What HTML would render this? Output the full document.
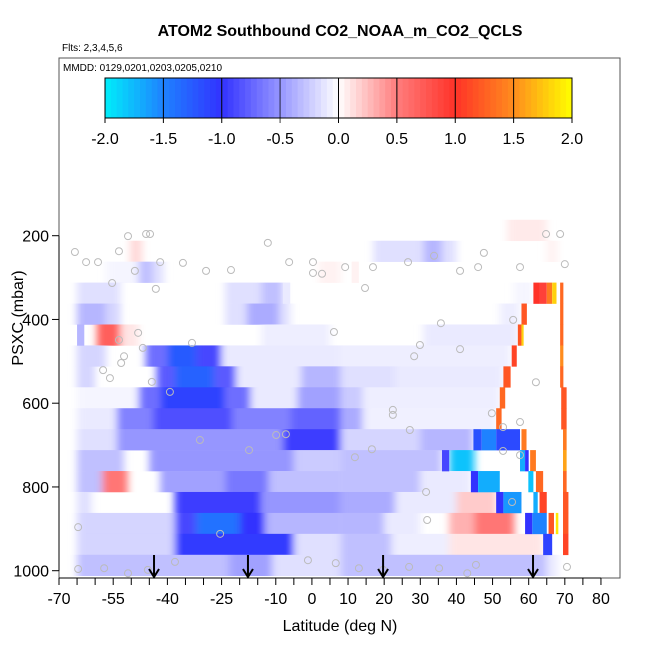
<!DOCTYPE html>
<html><head><meta charset="utf-8"><style>
body{margin:0;background:#fff;font-family:"Liberation Sans",sans-serif}
svg text{font-family:"Liberation Sans",sans-serif}
</style></head><body>
<svg id="c" width="650" height="650" viewBox="0 0 650 650">
<defs><filter id="hb" x="-0.1" y="0" width="1.2" height="1"><feGaussianBlur stdDeviation="4 0"/></filter></defs>
<text x="340" y="36" text-anchor="middle" font-size="16" font-weight="bold">ATOM2 Southbound CO2_NOAA_m_CO2_QCLS</text>
<text x="62" y="51" font-size="10">Flts: 2,3,4,5,6</text>
<g id="heat" filter="url(#hb)"></g>
<g id="heatSharp"></g>
<g id="marks"></g>
<rect x="59" y="58" width="561" height="520" fill="none" stroke="#555"/>
<text x="63" y="71" font-size="10">MMDD: 0129,0201,0203,0205,0210</text>
<g id="cbar"></g>
<g id="xax"></g>
<g id="yax"></g>
<g id="arrows"></g>
<text x="340" y="631" text-anchor="middle" font-size="16">Latitude (deg N)</text>
<text transform="translate(23,318) rotate(-90)" text-anchor="middle" font-size="16">PSXC (mbar)</text>
</svg>
<script>
const xTicks=[-70,-65,-60,-55,-50,-45,-40,-35,-30,-25,-20,-15,-10,-5,0,5,10,15,20,25,30,35,40,45,50,55,60,65,70,75,80];
const xLabels=[-70,-55,-40,-25,-10,0,10,20,30,40,50,60,70,80];
const yTicks=[200,400,600,800,1000];
const cbTicks=["-2.0","-1.5","-1.0","-0.5","0.0","0.5","1.0","1.5","2.0"];
const rowTop=[112,162,212,262,312,362,412,462,512,562,612,662,712,762,812,862,912,962];
const rowSegs=[
[],
[[54,65,0.08]],
[[-50.3,-47,0.15],[17,31,-0.15],[31,36,-0.35],[36,40,-0.15],[65,68,0.05]],
[[-57,-48,-0.05],[-48,-44,-0.3],[-44,-41,-0.15],[2,8,0.05],[11,13,0.05]],
[[-65,-53,-0.15],[-24,-14,-0.15],[-14,-8,-0.3],[-8,-6,-0.1],[56,61,-0.05],[61.3,63,1.0],[63,65,0.9],[65,66.5,1.4],[66.5,67.7,1.8],[68.7,69.6,1.3]],
[[-65,-57,-0.35],[-57,-53,-0.2],[-24,-18,-0.15],[-18,-9,-0.4],[-9,-6,-0.15],[52,57.5,-0.08],[58,59.5,1.2],[68.7,69.6,1.3]],
[[-65,-63,-0.35],[-59.5,-53,0.7],[-53,-48,0.1],[-14,5,-0.08],[30.8,57,-0.1],[57,58,1.2],[58,58.6,1.8],[68.7,69.6,1.3]],
[[-65,-57,-0.2],[-46,-40,-0.7],[-40,-32,-1.25],[-32,-25,-0.9],[-25,8,-0.1],[8,55,-0.08],[55.3,56.7,1.1],[68.7,69.6,1.5]],
[[-65,-60,-0.2],[-43,-38,-0.8],[-38,-27,-1.3],[-27,-21,-0.8],[-21,-3,-0.1],[-3,8,-0.35],[8,23,-0.15],[23,53,-0.1],[53,55,1.2],[68.7,69.6,1.3]],
[[-65,-48,-0.05],[-48,-42,-0.7],[-42,-24,-1.1],[-24,-17,-0.7],[-17,-4,-0.1],[-4,8,-0.45],[8,14,-0.25],[14,52,-0.08],[52,53.5,1.3],[69,70.5,1.2]],
[[-65,-54,-0.1],[-54,-44,-0.6],[-44,-22,-0.85],[-22,-6,-0.6],[-6,8,-0.75],[8,14,-0.4],[14,51,-0.07],[51,52.5,1.3],[69,70.5,1.2]],
[[-65,-54,-0.15],[-54,-8,-0.5],[-8,8,-0.95],[8,30,-0.2],[30,44.7,-0.35],[44.7,47,-1.2],[47,51,-1.5],[51,57.6,-1.15],[58,59.4,1.4],[69.5,70.5,1.4]],
[[-65,-52,-0.3],[-45,-5,-0.5],[-5,8,-0.25],[8,36,-0.3],[36,38,-0.9],[38,45,-1.8],[57.6,59,-1.7],[59,60,-1],[60.4,62,1.4],[69.5,70.5,1.6]],
[[-65,-58,-0.3],[-58,-51,0.55],[-42,-24,-0.45],[-24,-12,-0.65],[-12,8,-0.3],[8,30,-0.3],[30,44,-0.1],[44,46,-1.0],[46,52,-1.7],[59.9,61.3,-1.8],[62,64,1.3],[69.5,70.5,1.3]],
[[-65,-61,-0.15],[-38,-14,-0.95],[-14,8,-0.5],[8,23,-0.4],[23,40,-0.1],[40,51,0.2],[51,53,-1.0],[53,58,-1.6],[61.3,62.5,-1.7],[63,65,1.1],[69.5,71,1.2]],
[[-65,-38,-0.2],[-38,-32,-0.9],[-32,-20,-1.4],[-20,-13,-1.0],[-13,8,-0.35],[8,20,-0.35],[20,30,-0.1],[38,45,0.3],[45,56,0.55],[59,61,-1.0],[61,65,-1.5],[65.5,67,1.2],[67.5,68.2,1.9],[69.5,71,1.2]],
[[-65,-38,-0.2],[-38,-5,-1.05],[-5,8,-0.15],[8,22,-0.3],[22,38,-0.08],[38,64,0.1],[64,66.5,-1.1],[69.5,71,1.1]],
[[-65,-23,-0.3],[-23,-11,-0.45],[-11,8,-0.15],[8,35,-0.3],[35,65,-0.3],[65,68,-0.1]]
];
const markLat=[-65.6,-62.5,-59.2,-53.4,-50.9,-45.9,-44.8,-42,-49,-55.3,-43.2,-35.7,-29.3,-22.4,-12.2,-6.3,0.3,0.3,2.8,9.2,16.9,26.6,33.8,41,46,47.6,57.6,64.8,68.7,70,-53.4,-48.1,-52.8,-57.8,-55.9,-52,-46.8,-33.2,-39.3,-44.3,-31,-17.4,-9.9,-7.2,-64.7,-64.7,-57.5,-50.9,-45.4,-37.9,-25.4,-1.1,6.6,13,19.7,26.9,35.2,43,45.4,70.6,57.6,62,52.9,52.9,49.8,41,29.9,28.3,35.7,6.1,14.7,27.1,22.4,22.4,16.6,11.9,31.6,31.9,55.4,57.6,55.7];
const markP=[239,263,263,237,201,196,196,263,284,313,327,265,284,282,217,263,263,289,291,275,275,263,248,284,275,241,275,196,196,268,449,432,504,521,540,488,468,456,573,549,688,712,676,674,896,996,994,1006,998,979,912,975,982,994,998,991,994,1006,986,991,724,550,657,714,624,471,461,488,409,430,325,664,616,628,710,729,812,879,836,645,401];
const arrowLat=[-43.7,-17.7,19.7,61.2];

const NS="http://www.w3.org/2000/svg";
const X=lat=>59+(lat+70)*3.613;
const Y=p=>235.7+(p-200)*0.41875;
function mk(tag,attrs,parent){const e=document.createElementNS(NS,tag);for(const k in attrs)e.setAttribute(k,attrs[k]);parent.appendChild(e);return e;}
const stops=[[-2,[0,238,250]],[-1.5,[30,130,255]],[-1,[50,50,255]],[-0.5,[150,150,255]],[0,[255,255,255]],[0.5,[255,125,125]],[1,[255,50,40]],[1.5,[255,140,30]],[2,[255,255,0]]];
function col(v){v=Math.max(-2,Math.min(2,v));for(let i=0;i<stops.length-1;i++){const a=stops[i],b=stops[i+1];if(v<=b[0]){const t=(v-a[0])/(b[0]-a[0]);const c=a[1].map((q,j)=>Math.round(q+(b[1][j]-q)*t));return `rgb(${c})`;}}return 'rgb(255,255,0)';}

const heat=document.getElementById('heat');
const heatSharp=document.getElementById('heatSharp');
rowSegs.forEach((segs,r)=>{segs.forEach(s=>{
 const narrow=(s[1]-s[0])<3||Math.abs(s[2])>=1.0&&(s[1]-s[0])<7&&s[0]>40;
 const e=mk('rect',{x:X(s[0]),y:Y(rowTop[r]),width:X(s[1])-X(s[0]),height:Y(rowTop[r]+50)-Y(rowTop[r])+0.3,fill:col(s[2])},narrow?heatSharp:heat);
 
 
});});
const marks=document.getElementById('marks');
markLat.forEach((la,i)=>{const e=mk('circle',{cx:X(la),cy:Y(markP[i]),r:3.5,fill:'none',stroke:'#bbb','stroke-width':1},marks);
 
 });

const cb=document.getElementById('cbar');const cx0=105,cx1=572,cy0=78,cy1=118;
const CX=v=>cx0+(v+2)/4*(cx1-cx0);
for(let v=-2;v<2;v+=0.05){const e=mk('rect',{x:CX(v),y:cy0,width:(cx1-cx0)/80+0.5,height:cy1-cy0,fill:col(v+0.025)},cb);
 
 }
mk('rect',{x:cx0,y:cy0,width:cx1-cx0,height:cy1-cy0,fill:'none',stroke:'#000'},cb);
cbTicks.forEach(t=>{const v=parseFloat(t);const x=CX(v);
 mk('line',{x1:x,x2:x,y1:cy0,y2:cy1+5,stroke:'#000','stroke-width':v===-0.5?1.5:1,'stroke-opacity':v===-0.5?0.5:1},cb);
 const e=mk('text',{x:x,y:144,'text-anchor':'middle','font-size':16},cb);e.textContent=t;
 
 });

const xa=document.getElementById('xax');
mk('line',{x1:X(-70),x2:X(80),y1:578,y2:578,stroke:'#000'},xa);
xTicks.forEach(t=>mk('line',{x1:X(t),x2:X(t),y1:578,y2:585,stroke:'#000'},xa));
xLabels.forEach(t=>{const e=mk('text',{x:X(t),y:604,'text-anchor':'middle','font-size':16},xa);e.textContent=t;
 
 });
const ya=document.getElementById('yax');
mk('line',{x1:59,x2:59,y1:Y(200),y2:Y(1000),stroke:'#000'},ya);
yTicks.forEach(t=>{mk('line',{x1:52,x2:59,y1:Y(t),y2:Y(t),stroke:'#000'},ya);
 const e=mk('text',{x:49,y:Y(t)+6,'text-anchor':'end','font-size':16},ya);e.textContent=t;
 
 });
const ar=document.getElementById('arrows');
arrowLat.forEach(la=>{const x=X(la);
 const g=mk('g',{},ar);
 
 
 mk('line',{x1:x,x2:x,y1:555,y2:577,stroke:'#000','stroke-width':2},g);
 mk('path',{d:`M${x-5} ${569}L${x} ${577}L${x+5} ${569}`,fill:'none',stroke:'#000','stroke-width':2},g);});
</script>
</body></html>
